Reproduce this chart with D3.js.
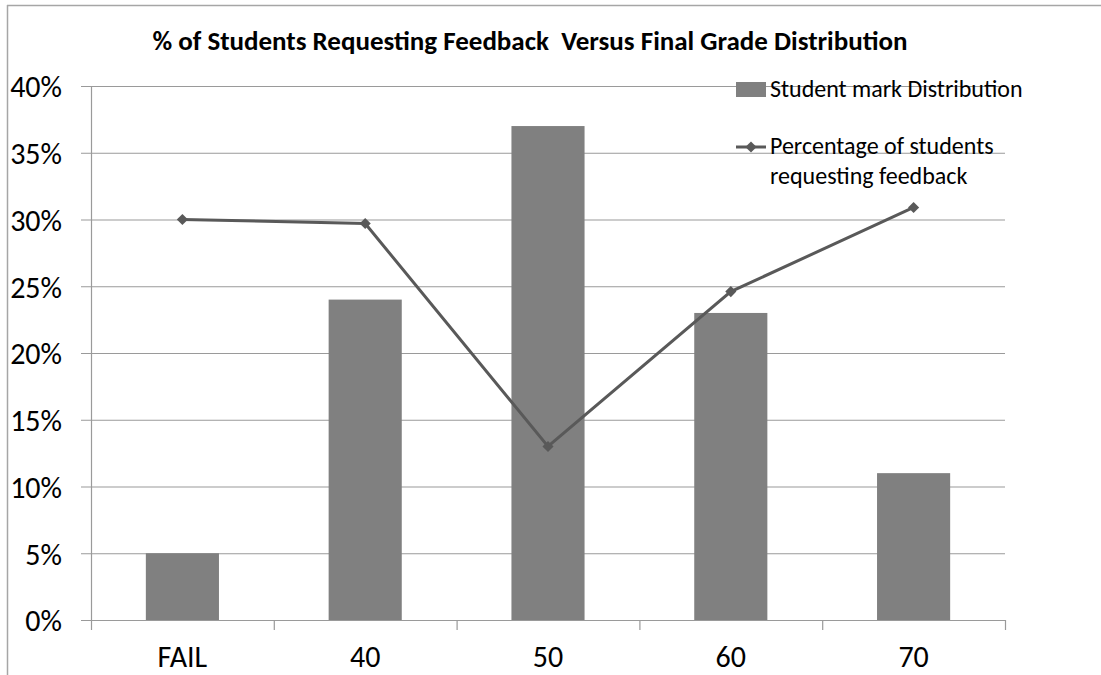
<!DOCTYPE html>
<html>
<head>
<meta charset="utf-8">
<script src="https://cdn.jsdelivr.net/npm/d3@7"></script>
<style>
  body { margin: 0; background: #fff; }
  text { font-family: Carlito, Calibri, Lato, "Open Sans", sans-serif; fill: #000; }
</style>
</head>
<body>
<div id="chart"></div>
<script>
// Data
var grades = ["FAIL", "40", "50", "60", "70"];
var markDistribution = [5, 24, 37, 23, 11];
var feedbackPct = [30, 29.7, 13, 24.6, 30.9];
var yTicks = [0, 5, 10, 15, 20, 25, 30, 35, 40];

var W = 1101, H = 675;
var PLOT = { left: 91, right: 1005, top: 86, bottom: 620 };

var svg = d3.select("#chart").append("svg")
  .attr("width", W)
  .attr("height", H);

// chart frame (only top and left edges visible)
svg.append("line").attr("x1", 7).attr("x2", W).attr("y1", 5.5).attr("y2", 5.5)
  .attr("stroke", "#a6a6a6").attr("stroke-width", 1.5);
svg.append("line").attr("x1", 7.5).attr("x2", 7.5).attr("y1", 5).attr("y2", H)
  .attr("stroke", "#a6a6a6").attr("stroke-width", 1.5);

var x = d3.scaleBand()
  .domain(grades)
  .range([PLOT.left, PLOT.right]);

var y = d3.scaleLinear()
  .domain([0, 40])
  .range([PLOT.bottom, PLOT.top]);

// gridlines + y labels
var yAxis = d3.axisLeft(y)
  .tickValues(yTicks)
  .tickSize(-(PLOT.right - PLOT.left) - 10)
  .tickFormat(function(d) { return d + "%"; });

var gy = svg.append("g")
  .attr("transform", "translate(" + (PLOT.left - 10) + ",0)")
  .call(yAxis);
gy.select(".domain").remove();
gy.selectAll(".tick line").attr("stroke", "#9a9a9a").attr("stroke-width", 1.2);
gy.selectAll(".tick text")
  .attr("text-anchor", "end")
  .attr("x", -19)
  .attr("dy", "0.36em")
  .style("font-size", "30px");

// y axis line
svg.append("line")
  .attr("x1", PLOT.left + 0.5).attr("x2", PLOT.left + 0.5)
  .attr("y1", PLOT.top).attr("y2", PLOT.bottom)
  .attr("stroke", "#9a9a9a").attr("stroke-width", 1.2);

// bars
var barW = x.bandwidth() * 0.4;
svg.append("g").selectAll("rect")
  .data(markDistribution)
  .enter()
  .append("rect")
  .attr("x", function(d, i) { return x(grades[i]) + (x.bandwidth() - barW) / 2; })
  .attr("y", function(d) { return y(d); })
  .attr("width", barW)
  .attr("height", function(d) { return y(0) - y(d); })
  .attr("fill", "#808080");

// x axis
var xAxis = d3.axisBottom(x).tickSize(0).tickPadding(0);
var gx = svg.append("g")
  .attr("transform", "translate(0," + PLOT.bottom + ")")
  .call(xAxis);
gx.select(".domain").remove();
gx.selectAll(".tick text")
  .style("font-size", "30px")
  .attr("y", 47)
  .attr("dy", null);

// x baseline and category boundary ticks
svg.append("line")
  .attr("x1", PLOT.left).attr("x2", PLOT.right)
  .attr("y1", PLOT.bottom + 0.5).attr("y2", PLOT.bottom + 0.5)
  .attr("stroke", "#9a9a9a").attr("stroke-width", 1.2);
var bounds = grades.map(function(g) { return x(g); }).concat([PLOT.right]);
svg.append("g").selectAll("line")
  .data(bounds)
  .enter()
  .append("line")
  .attr("x1", function(d) { return d + 0.5; })
  .attr("x2", function(d) { return d + 0.5; })
  .attr("y1", PLOT.bottom)
  .attr("y2", PLOT.bottom + 10)
  .attr("stroke", "#9a9a9a").attr("stroke-width", 1.2);

// feedback line
var line = d3.line()
  .x(function(d, i) { return x(grades[i]) + x.bandwidth() / 2; })
  .y(function(d) { return y(d); });

svg.append("path")
  .datum(feedbackPct)
  .attr("d", line)
  .attr("fill", "none")
  .attr("stroke", "#595959")
  .attr("stroke-width", 3);

var diamond = d3.symbol().type(d3.symbolSquare).size(62);
svg.append("g").selectAll("path")
  .data(feedbackPct)
  .enter()
  .append("path")
  .attr("d", diamond)
  .attr("transform", function(d, i) {
    return "translate(" + (x(grades[i]) + x.bandwidth() / 2) + "," + y(d) + ") rotate(45)";
  })
  .attr("fill", "#595959");

// title
svg.append("text")
  .attr("x", 530)
  .attr("y", 50)
  .attr("text-anchor", "middle")
  .style("font-size", "27px")
  .style("font-weight", "bold")
  .style("white-space", "pre")
  .attr("xml:space", "preserve")
  .text("% of Students Requesting Feedback  Versus Final Grade Distribution");

// legend
var lg = svg.append("g");
lg.append("rect")
  .attr("x", 736).attr("y", 82)
  .attr("width", 30).attr("height", 15)
  .attr("fill", "#808080");
lg.append("text")
  .attr("x", 770).attr("y", 97)
  .style("font-size", "24px")
  .text("Student mark Distribution");

lg.append("line")
  .attr("x1", 736).attr("x2", 766)
  .attr("y1", 147).attr("y2", 147)
  .attr("stroke", "#595959").attr("stroke-width", 3);
lg.append("path")
  .attr("d", diamond)
  .attr("transform", "translate(751,147) rotate(45)")
  .attr("fill", "#595959");
lg.append("text")
  .attr("x", 770).attr("y", 154)
  .style("font-size", "24px")
  .text("Percentage of students");
lg.append("text")
  .attr("x", 770).attr("y", 184)
  .style("font-size", "24px")
  .text("requesting feedback");
</script>
</body>
</html>
